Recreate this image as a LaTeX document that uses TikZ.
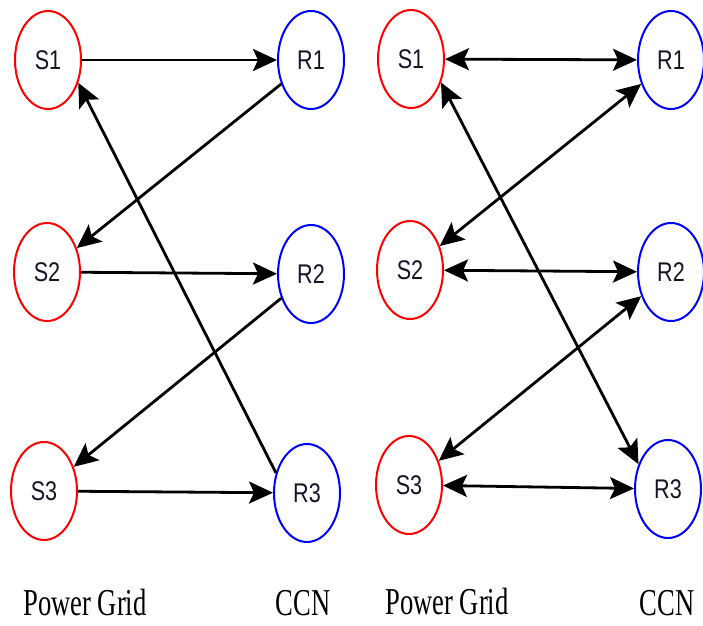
\documentclass[tikz,border=0pt]{standalone}
\usepackage{fontspec}
\setmainfont{Liberation Serif}
\newfontfamily\nodefont[FakeStretch=0.8]{Liberation Sans}
\newfontfamily\capfont[FakeStretch=0.7]{Liberation Serif}
\usetikzlibrary{shapes.geometric,arrows.meta}
\definecolor{sred}{RGB}{255,0,0}
\definecolor{rblue}{RGB}{0,0,255}
\definecolor{ntext}{RGB}{20,20,40}
\begin{document}
\begin{tikzpicture}[x=1pt,y=1pt,
  nodetext/.style={text=ntext,font={\fontsize{27}{29}\selectfont\nodefont}},
  sn/.style={ellipse,draw=sred,line width=2pt,minimum width=66pt,minimum height=98pt,inner sep=0pt,nodetext},
  rn/.style={ellipse,draw=rblue,line width=2pt,minimum width=66pt,minimum height=98pt,inner sep=0pt,nodetext},
  captext/.style={anchor=base,inner sep=0pt,font={\fontsize{38}{40}\selectfont\capfont}},
  tip/.tip={Stealth[length=24pt,width=22pt,inset=5pt]},
  link/.style={line width=2.8pt,black,-tip},
  blink/.style={line width=2.8pt,black,tip-tip}
]
\useasboundingbox (0,0) rectangle (703,625);
% left diagram
\node[sn] (LS1) at (48,565) {S1};
\node[rn] (LR1) at (311,565) {R1};
\node[sn] (LS2) at (47,353) {S2};
\node[rn] (LR2) at (311,351) {R2};
\node[sn] (LS3) at (44,134) {S3};
\node[rn] (LR3) at (307,132) {R3};
% right diagram
\node[sn] (RS1) at (411,566) {S1};
\node[rn] (RR1) at (671,565) {R1};
\node[sn] (RS2) at (410,355) {S2};
\node[rn] (RR2) at (671,353) {R2};
\node[sn] (RS3) at (409,140) {S3};
\node[rn] (RR3) at (668,136) {R3};
% captions
\node[captext] (LPG) at (85,10) {Power Grid};
\node[captext] (LCCN) at (303,10) {CCN};
\node[captext] (RPG) at (447,11) {Power Grid};
\node[captext] (RCCN) at (667,10) {CCN};
% left connectors
\draw[link] (LS1) -- (LR1);
\draw[link] (LR1) -- (LS2);
\draw[link] (LS2) -- (LR2);
\draw[link] (LR2) -- (LS3);
\draw[link] (LS3) -- (LR3);
\draw[link] (LR3.147) -- (LS1.-37);
% right connectors
\draw[blink] (RS1) -- (RR1);
\draw[blink] (RR1) -- (RS2);
\draw[blink] (RS2) -- (RR2);
\draw[blink] (RR2) -- (RS3);
\draw[blink] (RS3) -- (RR3);
\draw[blink] (RS1.-38) -- (RR3.140);
\end{tikzpicture}
\end{document}
